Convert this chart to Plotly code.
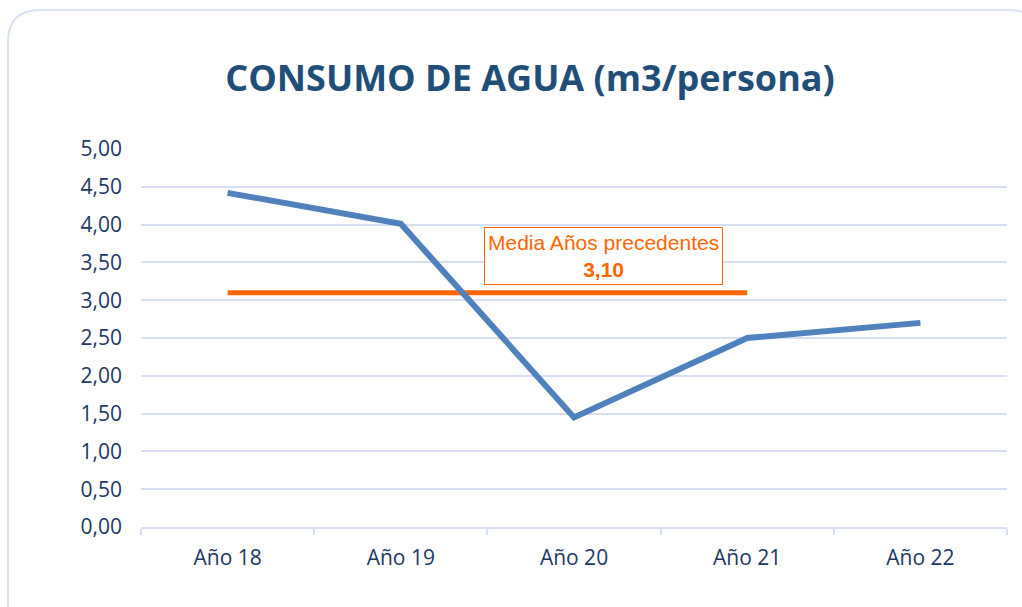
import plotly.graph_objects as go

categories = ["Año 18", "Año 19", "Año 20", "Año 21", "Año 22"]
consumo = [4.42, 4.01, 1.45, 2.50, 2.70]
media_categories = ["Año 18", "Año 19", "Año 20", "Año 21"]
media_value = 3.10
media_label = "Media Años precedentes"
y_ticks = [0, 0.5, 1, 1.5, 2, 2.5, 3, 3.5, 4, 4.5, 5]
y_ticktext = [f"{v:.2f}".replace(".", ",") for v in y_ticks]

W, H = 1022, 607
L, R, T, B = 141, 15, 149, 80
pw, ph = W - L - R, H - T - B

def px(x):
    return (x - L) / pw

def py(y):
    return 1 - (y - T) / ph

fig = go.Figure()
fig.add_trace(go.Scatter(
    x=media_categories, y=[media_value] * len(media_categories), mode="lines",
    line=dict(color="#FF6600", width=5), hoverinfo="skip", showlegend=False,
))
fig.add_trace(go.Scatter(
    x=categories, y=consumo, mode="lines",
    line=dict(color="#4F81BD", width=6), showlegend=False,
))

# rounded outer border
x0, x1, y0, y1, r = 8, 1040, 10, 640, 32
path = (f"M {px(x0+r)},{py(y0)} L {px(x1-r)},{py(y0)} "
        f"Q {px(x1)},{py(y0)} {px(x1)},{py(y0+r)} L {px(x1)},{py(y1-r)} "
        f"Q {px(x1)},{py(y1)} {px(x1-r)},{py(y1)} L {px(x0+r)},{py(y1)} "
        f"Q {px(x0)},{py(y1)} {px(x0)},{py(y1-r)} L {px(x0)},{py(y0+r)} "
        f"Q {px(x0)},{py(y0)} {px(x0+r)},{py(y0)} Z")
fig.add_shape(type="path", path=path, xref="paper", yref="paper",
              line=dict(color="#DAE3F3", width=2), layer="below")

fig.add_annotation(
    x=2.17, y=media_value, xref="x", yref="y", yanchor="bottom", yshift=8,
    text=f"{media_label}<br><b>{media_value:.2f}".replace(".", ",") + "</b>",
    showarrow=False, font=dict(family="Liberation Sans, Arial", size=21, color="#FF6600"),
    bordercolor="#FF6600", borderwidth=1, borderpad=3, bgcolor="white",
)

fig.update_layout(
    width=W, height=H,
    margin=dict(l=L, r=R, t=T, b=B),
    paper_bgcolor="white", plot_bgcolor="white",
    title=dict(text="<b>CONSUMO DE AGUA (m3/persona)</b>", x=530 / W, xanchor="center",
               y=1 - 78 / H, yanchor="middle",
               font=dict(family="Open Sans", size=36, color="#1F4E79")),
    font=dict(family="Open Sans", color="#203864"),
)
fig.update_xaxes(
    type="category", range=[-0.5, 4.5], tickson="boundaries",
    ticks="outside", ticklen=6, tickcolor="#D6E0F2", tickwidth=2,
    showline=True, linecolor="#D6E0F2", linewidth=2,
    showgrid=False, tickfont=dict(size=21, color="#203864"),
    ticklabelstandoff=11,
)
fig.update_yaxes(
    range=[0, 5], tickvals=y_ticks, ticktext=y_ticktext,
    showgrid=True, gridcolor="#D6E0F2", gridwidth=2, zeroline=False,
    tickfont=dict(size=21, color="#203864"), ticks="", ticklabelstandoff=18,
)
fig.write_html("out.html", config={"displayModeBar": False},
               post_script="document.body.style.margin='0';")
